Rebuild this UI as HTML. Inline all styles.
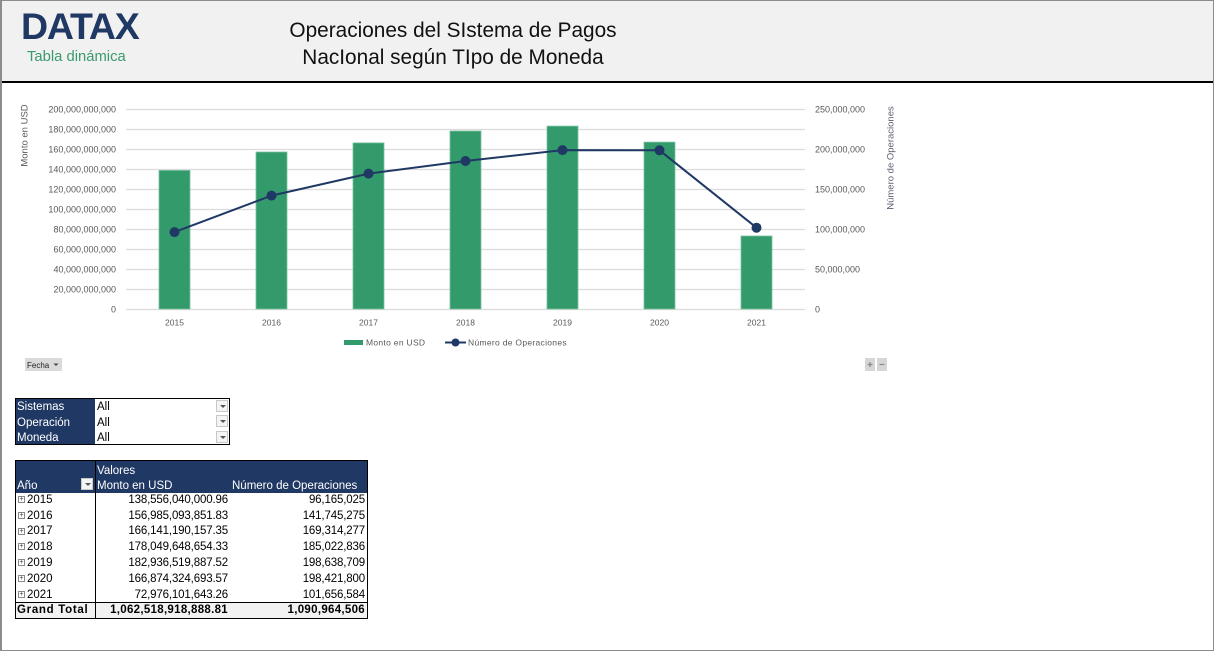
<!DOCTYPE html>
<html><head><meta charset="utf-8">
<style>
*{margin:0;padding:0;box-sizing:border-box}
body{width:1214px;height:651px;background:#fff;position:relative;overflow:hidden;font-family:"Liberation Sans",sans-serif}
.frame{position:absolute;left:0;top:0;width:1214px;height:651px;border:1px solid #8c8c8c;border-left:2px solid #8c8c8c}
.hdr{position:absolute;left:2px;top:1px;width:1211px;height:82px;background:#f1f1f1;border-bottom:2px solid #000}
.abs{position:absolute;white-space:nowrap}
.navy{background:#203864;color:#fff}
.cell{position:absolute;font-size:11.5px;line-height:15px;white-space:nowrap}
.dd{position:absolute;width:12px;height:12px;border:1px solid #c8c8c8;background:#f4f4f4}
.dd:after{content:"";position:absolute;left:3px;top:4px;border-left:3px solid transparent;border-right:3px solid transparent;border-top:3px solid #555}
.exp{position:absolute;width:7px;height:7px;border:1px solid #8a8a8a;font-size:7px;line-height:5px;text-align:center;color:#333}
</style></head><body>
<div class="hdr"></div>
<div class="abs" style="left:21px;top:6px;font-size:37.5px;font-weight:bold;color:#203864;letter-spacing:-1.2px;line-height:40px">DATAX</div>
<div class="abs" style="left:27px;top:48px;font-size:14.8px;color:#3a9a6e;line-height:18px">Tabla dinámica</div>
<div class="abs" style="left:253px;top:17px;width:400px;text-align:center;font-size:20.8px;color:#111;line-height:27px">Operaciones del SIstema de Pagos<br>NacIonal según TIpo de Moneda</div>

<svg class="abs" style="left:0;top:0" width="1214" height="651" xmlns="http://www.w3.org/2000/svg">
<g stroke="#dcdcdc" stroke-width="1.3">
<line x1="126" x2="805" y1="109.5" y2="109.5"/><line x1="126" x2="805" y1="129.5" y2="129.5"/>
<line x1="126" x2="805" y1="149.5" y2="149.5"/><line x1="126" x2="805" y1="169.5" y2="169.5"/>
<line x1="126" x2="805" y1="189.5" y2="189.5"/><line x1="126" x2="805" y1="209.5" y2="209.5"/>
<line x1="126" x2="805" y1="229.5" y2="229.5"/><line x1="126" x2="805" y1="249.5" y2="249.5"/>
<line x1="126" x2="805" y1="269.5" y2="269.5"/><line x1="126" x2="805" y1="289.5" y2="289.5"/>
<line x1="126" x2="805" y1="309.5" y2="309.5"/>
</g>
<g font-family="Liberation Sans, sans-serif" font-size="9" fill="#595959" text-anchor="end">
<text x="116" y="112.5">200,000,000,000</text><text x="116" y="132.5">180,000,000,000</text>
<text x="116" y="152.5">160,000,000,000</text><text x="116" y="172.5">140,000,000,000</text>
<text x="116" y="192.5">120,000,000,000</text><text x="116" y="212.5">100,000,000,000</text>
<text x="116" y="232.5">80,000,000,000</text><text x="116" y="252.5">60,000,000,000</text>
<text x="116" y="272.5">40,000,000,000</text><text x="116" y="292.5">20,000,000,000</text>
<text x="116" y="312.5">0</text>
</g>
<g font-family="Liberation Sans, sans-serif" font-size="9" fill="#595959">
<text x="815" y="112.5">250,000,000</text><text x="815" y="152.5">200,000,000</text>
<text x="815" y="192.5">150,000,000</text><text x="815" y="232.5">100,000,000</text>
<text x="815" y="272.5">50,000,000</text><text x="815" y="312.5">0</text>
</g>
<g font-family="Liberation Sans, sans-serif" font-size="8.5" fill="#595959" text-anchor="middle">
<text x="174.5" y="325.5">2015</text><text x="271.5" y="325.5">2016</text><text x="368.5" y="325.5">2017</text>
<text x="465.5" y="325.5">2018</text><text x="562.5" y="325.5">2019</text><text x="659.5" y="325.5">2020</text>
<text x="756.5" y="325.5">2021</text>
</g>
<text transform="translate(27.5,135.5) rotate(-90)" text-anchor="middle" font-family="Liberation Sans, sans-serif" font-size="9.5" fill="#595959">Monto en USD</text>
<text transform="translate(893.5,158) rotate(-90)" text-anchor="middle" font-family="Liberation Sans, sans-serif" font-size="9.5" fill="#625a72">Número de Operaciones</text>
<g fill="#339a6c" stroke="#7cc3a1" stroke-width="0.8">
<rect x="159" y="170.4" width="31" height="138.6"/>
<rect x="256" y="152" width="31" height="157"/>
<rect x="353" y="142.9" width="31" height="166.1"/>
<rect x="450" y="131" width="31" height="178"/>
<rect x="547" y="126.1" width="31" height="182.9"/>
<rect x="644" y="142.1" width="31" height="166.9"/>
<rect x="741" y="236" width="31" height="73"/>
</g>
<polyline fill="none" stroke="#203864" stroke-width="2" points="174.5,232.1 271.5,195.6 368.5,173.6 465.5,161 562.5,150.1 659.5,150.3 756.5,227.7"/>
<g fill="#203864">
<circle cx="174.5" cy="232.1" r="5"/><circle cx="271.5" cy="195.6" r="5"/><circle cx="368.5" cy="173.6" r="5"/>
<circle cx="465.5" cy="161" r="5"/><circle cx="562.5" cy="150.1" r="5"/><circle cx="659.5" cy="150.3" r="5"/>
<circle cx="756.5" cy="227.7" r="5"/>
</g>
<rect x="344" y="340" width="19" height="5" fill="#339a6c"/>
<text x="366" y="345.5" font-family="Liberation Sans, sans-serif" font-size="8.5" fill="#595959" letter-spacing="0.3">Monto en USD</text>
<line x1="445" x2="466" y1="342.5" y2="342.5" stroke="#203864" stroke-width="2"/>
<circle cx="455.5" cy="342.5" r="4" fill="#203864"/>
<text x="468" y="345.5" font-family="Liberation Sans, sans-serif" font-size="8.5" fill="#595959" letter-spacing="0.3">Número de Operaciones</text>
<rect x="25" y="358" width="37" height="13" fill="#dadada"/>
<text x="27" y="368" font-family="Liberation Sans, sans-serif" font-size="8" fill="#222">Fecha</text>
<path d="M53.5,363.5 L58.5,363.5 L56,366 Z" fill="#444"/>
<rect x="865" y="358" width="10" height="13" fill="#d6d6d6"/>
<rect x="877" y="358" width="10" height="13" fill="#d6d6d6"/>
<path d="M867.5,364.5h5M870,362v5" stroke="#888" stroke-width="1.2"/>
<path d="M879.5,364.5h5" stroke="#888" stroke-width="1.2"/>
</svg>

<!-- filter table -->
<div class="abs" style="left:15px;top:398px;width:215px;height:47px;border:1px solid #000;background:#fff"></div>
<div class="abs navy" style="left:16px;top:399px;width:79px;height:45px"></div>
<div class="cell" style="left:17px;top:400px;color:#fff">Sistemas</div>
<div class="cell" style="left:17px;top:415.5px;color:#fff">Operación</div>
<div class="cell" style="left:17px;top:431px;color:#fff">Moneda</div>
<div class="cell" style="left:97px;top:400px">All</div>
<div class="cell" style="left:97px;top:415.5px">All</div>
<div class="cell" style="left:97px;top:431px">All</div>
<div class="dd" style="left:216px;top:400px"></div>
<div class="dd" style="left:216px;top:415px"></div>
<div class="dd" style="left:216px;top:431px"></div>

<!-- pivot table -->
<div class="abs" style="left:15px;top:460px;width:353px;height:159px;border:1px solid #000;background:#fff"></div>
<div class="abs navy" style="left:16px;top:461px;width:351px;height:32px"></div>
<div class="abs" style="left:95px;top:461px;width:1px;height:157px;background:#000"></div>
<div class="abs" style="left:16px;top:602px;width:351px;height:16px;background:#f2f2f2;border-top:1px solid #000"></div>
<div class="abs" style="left:95px;top:602px;width:1px;height:16px;background:#000"></div>
<div class="cell" style="left:97px;top:463.5px;color:#fff">Valores</div>
<div class="cell" style="left:17px;top:478.5px;color:#fff">Año</div>
<div class="dd" style="left:81px;top:478px"></div>
<div class="cell" style="left:97px;top:478.5px;color:#fff">Monto en USD</div>
<div class="cell" style="left:232px;top:478.5px;color:#fff">Número de Operaciones</div>

<div class="exp" style="left:18px;top:496px">+</div><div class="cell" style="left:27px;top:492.5px">2015</div>
<div class="exp" style="left:18px;top:512px">+</div><div class="cell" style="left:27px;top:508.5px">2016</div>
<div class="exp" style="left:18px;top:528px">+</div><div class="cell" style="left:27px;top:524px">2017</div>
<div class="exp" style="left:18px;top:543px">+</div><div class="cell" style="left:27px;top:540px">2018</div>
<div class="exp" style="left:18px;top:559px">+</div><div class="cell" style="left:27px;top:555.5px">2019</div>
<div class="exp" style="left:18px;top:575px">+</div><div class="cell" style="left:27px;top:571.5px">2020</div>
<div class="exp" style="left:18px;top:591px">+</div><div class="cell" style="left:27px;top:587.5px">2021</div>
<div class="cell" style="left:17px;top:603px;font-weight:bold;letter-spacing:0.7px">Grand Total</div>

<div class="cell" style="right:986px;top:492.5px;letter-spacing:-0.15px">138,556,040,000.96</div>
<div class="cell" style="right:986px;top:508.5px;letter-spacing:-0.15px">156,985,093,851.83</div>
<div class="cell" style="right:986px;top:524px;letter-spacing:-0.15px">166,141,190,157.35</div>
<div class="cell" style="right:986px;top:540px;letter-spacing:-0.15px">178,049,648,654.33</div>
<div class="cell" style="right:986px;top:555.5px;letter-spacing:-0.15px">182,936,519,887.52</div>
<div class="cell" style="right:986px;top:571.5px;letter-spacing:-0.15px">166,874,324,693.57</div>
<div class="cell" style="right:986px;top:587.5px;letter-spacing:-0.15px">72,976,101,643.26</div>
<div class="cell" style="right:986px;top:603px;font-weight:bold;letter-spacing:0.3px">1,062,518,918,888.81</div>

<div class="cell" style="right:849px;top:492.5px;letter-spacing:-0.15px">96,165,025</div>
<div class="cell" style="right:849px;top:508.5px;letter-spacing:-0.15px">141,745,275</div>
<div class="cell" style="right:849px;top:524px;letter-spacing:-0.15px">169,314,277</div>
<div class="cell" style="right:849px;top:540px;letter-spacing:-0.15px">185,022,836</div>
<div class="cell" style="right:849px;top:555.5px;letter-spacing:-0.15px">198,638,709</div>
<div class="cell" style="right:849px;top:571.5px;letter-spacing:-0.15px">198,421,800</div>
<div class="cell" style="right:849px;top:587.5px;letter-spacing:-0.15px">101,656,584</div>
<div class="cell" style="right:849px;top:603px;font-weight:bold;letter-spacing:0.3px">1,090,964,506</div>

<div class="frame"></div>
</body></html>
